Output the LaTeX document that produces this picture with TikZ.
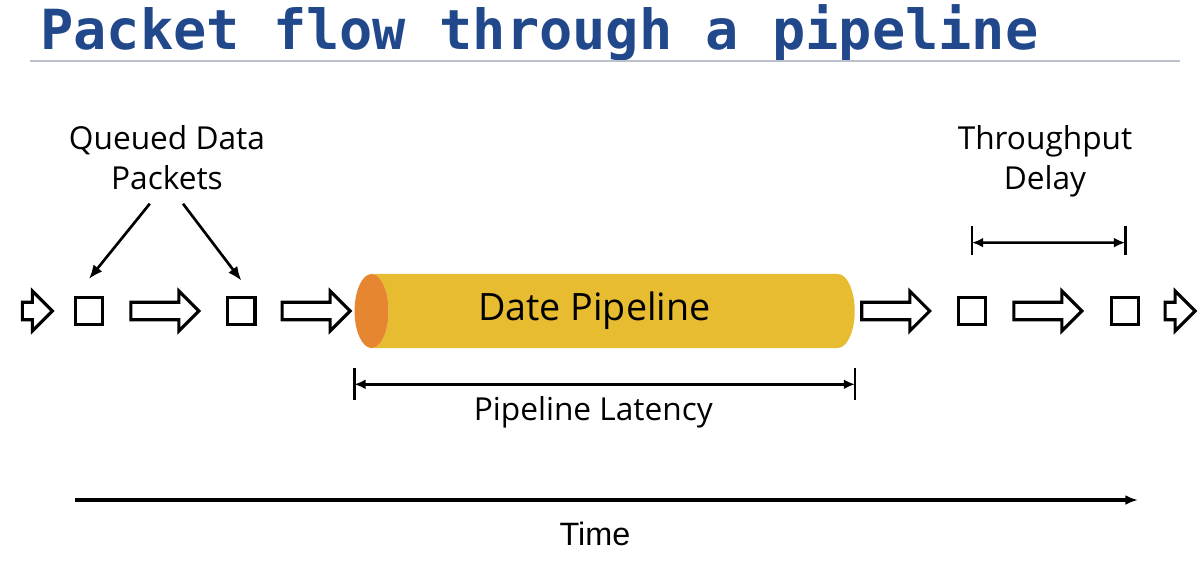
\documentclass[tikz,border=0pt]{standalone}
\usepackage{fontspec}
\setmainfont{Open Sans}
\newfontfamily\titlefont{DejaVu Sans Mono}
\newfontfamily\timefont{Liberation Sans}
\usetikzlibrary{positioning,shapes.arrows,shapes.geometric,arrows.meta}

\definecolor{titleblue}{RGB}{33,72,138}
\definecolor{rulegray}{RGB}{188,194,204}
\definecolor{pipeyellow}{RGB}{232,188,48}
\definecolor{pipeorange}{RGB}{230,134,48}

\begin{document}
\begin{tikzpicture}[x=0.025cm, y=-0.025cm,
    flow/.style={single arrow, draw, line width=2.2pt, inner sep=0pt,
                 text height=0.36cm, text depth=0pt,
                 single arrow head extend=0.28cm, minimum height=1.7cm},
    small flow/.style={flow, minimum height=0.75cm},
    packet/.style={rectangle, draw, line width=2.2pt, minimum size=0.68cm, inner sep=0pt},
    pipe/.style={cylinder, shape border rotate=180, aspect=0.9,
                 minimum height=12.5cm, minimum width=1.85cm,
                 cylinder uses custom fill, cylinder body fill=pipeyellow,
                 cylinder end fill=pipeorange, inner sep=0pt,
                 font=\fontsize{26.8}{30}\selectfont},
    label/.style={align=center, inner sep=0pt, font=\fontsize{22.5}{28.5}\selectfont},
    bar/.style={line width=1.9pt},
    span/.style={line width=1.9pt, {Latex[length=8pt,width=7pt]}-{Latex[length=8pt,width=7pt]}},
    pointer/.style={line width=1.9pt, -{Latex[length=10pt,width=8pt]}}]

  \useasboundingbox (0,0) rectangle (1203,560);

  % title
  \node[anchor=base west, inner sep=0pt, text=titleblue,
        font=\titlefont\bfseries\fontsize{39.3}{44}\selectfont] (title) at (40,49)
        {Packet flow through a pipeline};
  \draw[rulegray, line width=2pt] (30,61) -- (1180,61);

  % packets flowing in
  \node[small flow] (in) at (33,311) {};
  \node[packet] (p1) [right=0.48cm of in] {};
  \node[flow] (a1) [right=0.63cm of p1] {};
  \node[packet] (p2) [right=0.63cm of a1] {};
  \node[flow] (a2) [right=0.6cm of p2] {};

  % the pipeline
  \node[pipe] (pipe) [right=0.05cm of a2] {Date Pipeline\hspace*{0.95cm}};

  % packets flowing out
  \node[flow] (a3) [right=0.13cm of pipe] {};
  \node[packet] (p3) [right=0.62cm of a3] {};
  \node[flow] (a4) [right=0.63cm of p3] {};
  \node[packet] (p4) [right=0.65cm of a4] {};
  \node[small flow] (out) [right=0.58cm of p4] {};

  % labels
  \node[label] (queued) at (167,158) {Queued Data\\Packets};
  \node[label] (tput) at (1045,161) {Throughput\\Delay};

  \coordinate (q1) at ([xshift=-0.43cm,yshift=-0.33cm]queued.south);
  \coordinate (q2) at ([xshift=0.4cm,yshift=-0.33cm]queued.south);
  \draw[pointer] (q1) -- ([yshift=0.42cm]p1.north);
  \draw[pointer] (q2) -- ([yshift=0.38cm]p2.north);

  % throughput delay
  \coordinate (t1) at ([yshift=1.33cm]p3.north);
  \coordinate (t2) at ([yshift=1.33cm]p4.north);
  \draw[bar] ([yshift=0.42cm]t1) -- ([yshift=-0.3cm]t1);
  \draw[bar] ([yshift=0.42cm]t2) -- ([yshift=-0.3cm]t2);
  \draw[span] (t1) -- (t2);

  % pipeline latency
  \coordinate (l1) at ([yshift=-0.9cm]pipe.west |- pipe.south);
  \coordinate (l2) at ([yshift=-0.9cm]pipe.east |- pipe.south);
  \coordinate (lm) at ([xshift=-0.5cm]pipe.south |- l1);
  \draw[bar] ([yshift=0.4cm]l1) -- ([yshift=-0.38cm]l1);
  \draw[bar] ([yshift=0.4cm]l2) -- ([yshift=-0.38cm]l2);
  \draw[span] (l1) -- (l2);
  \node[label] (latency) [below=0.3cm of lm] {Pipeline Latency};

  % time axis
  \coordinate (t0) at (75,500);
  \coordinate (tend) at (1138,500);
  \draw[line width=2.6pt, -{Latex[length=9pt,width=7pt]}] (t0) -- (tend);
  \node[inner sep=0pt, font=\timefont\fontsize{23}{26}\selectfont] (time) at (595,534) {Time};

\end{tikzpicture}
\end{document}
